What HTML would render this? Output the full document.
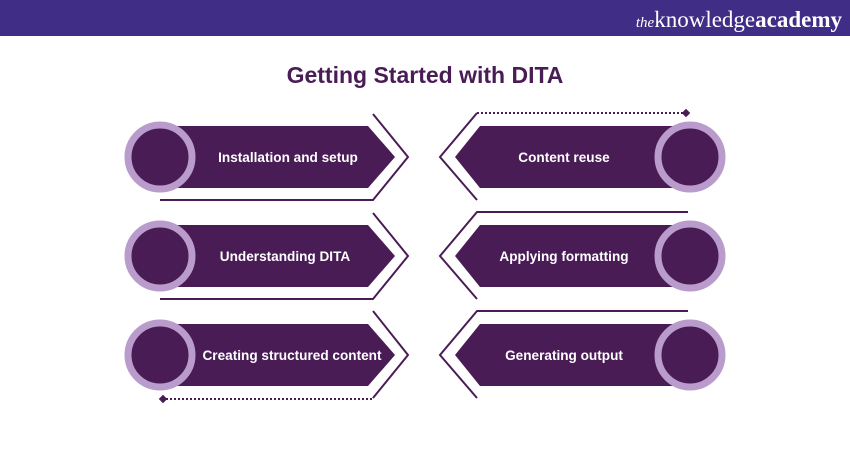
<!DOCTYPE html>
<html><head><meta charset="utf-8"><style>
body{margin:0;width:850px;height:450px;overflow:hidden;background:#fff;font-family:"Liberation Sans",sans-serif}
</style></head><body>
<svg width="850" height="450" xmlns="http://www.w3.org/2000/svg">
<rect x="0" y="0" width="850" height="36" fill="#3f2d86"/>
<text x="842" y="27" text-anchor="end" font-family="Liberation Serif,serif" font-size="23" fill="#fff"><tspan font-style="italic" font-size="15">the</tspan>knowledge<tspan font-weight="bold">academy</tspan></text>
<text x="425" y="83" text-anchor="middle" font-size="23" font-weight="bold" fill="#4a1c56">Getting Started with DITA</text>
<defs>
<g id="L">
<polyline points="160,43 373,43 408,0 373,-43" fill="none" stroke="#4a1c56" stroke-width="2"/>
<polygon points="160,-31 368,-31 395,0 368,31 160,31" fill="#4a1c56"/>
<circle cx="160" cy="0" r="32" fill="#4a1c56" stroke="#b99ccc" stroke-width="7"/>
</g>
<g id="R">
<polyline points="688,-44 477,-44 440,0 477,43" fill="none" stroke="#4a1c56" stroke-width="2"/>
<polygon points="690,-31 480,-31 455,0 480,31 690,31" fill="#4a1c56"/>
<circle cx="690" cy="0" r="32" fill="#4a1c56" stroke="#b99ccc" stroke-width="7"/>
</g>
</defs>
<g font-size="13.6" font-weight="bold" fill="#fff" text-anchor="middle">
<use href="#L" transform="translate(0,157)"/>
<text x="288" y="162">Installation and setup</text>
<use href="#L" transform="translate(0,256)"/>
<text x="285" y="261">Understanding DITA</text>
<polyline points="373,311 408,355 373,398" fill="none" stroke="#4a1c56" stroke-width="2"/>
<polygon points="160,324 368,324 395,355 368,386 160,386" fill="#4a1c56"/>
<circle cx="160" cy="355" r="32" fill="#4a1c56" stroke="#b99ccc" stroke-width="7"/>
<line x1="166" y1="399" x2="373" y2="399" stroke="#4a1c56" stroke-width="2" stroke-dasharray="2,2"/>
<rect x="160" y="396" width="6" height="6" fill="#4a1c56" transform="rotate(45 163 399)"/>
<text x="292" y="360">Creating structured content</text>

<polyline points="477,200 440,157 477,113" fill="none" stroke="#4a1c56" stroke-width="2"/>
<line x1="477" y1="113" x2="683" y2="113" stroke="#4a1c56" stroke-width="2" stroke-dasharray="2,2"/>
<rect x="683" y="110" width="6" height="6" fill="#4a1c56" transform="rotate(45 686 113)"/>
<polygon points="690,126 480,126 455,157 480,188 690,188" fill="#4a1c56"/>
<circle cx="690" cy="157" r="32" fill="#4a1c56" stroke="#b99ccc" stroke-width="7"/>
<text x="564" y="162">Content reuse</text>
<use href="#R" transform="translate(0,256)"/>
<text x="564" y="261">Applying formatting</text>
<use href="#R" transform="translate(0,355)"/>
<text x="564" y="360">Generating output</text>
</g>
</svg>
</body></html>
